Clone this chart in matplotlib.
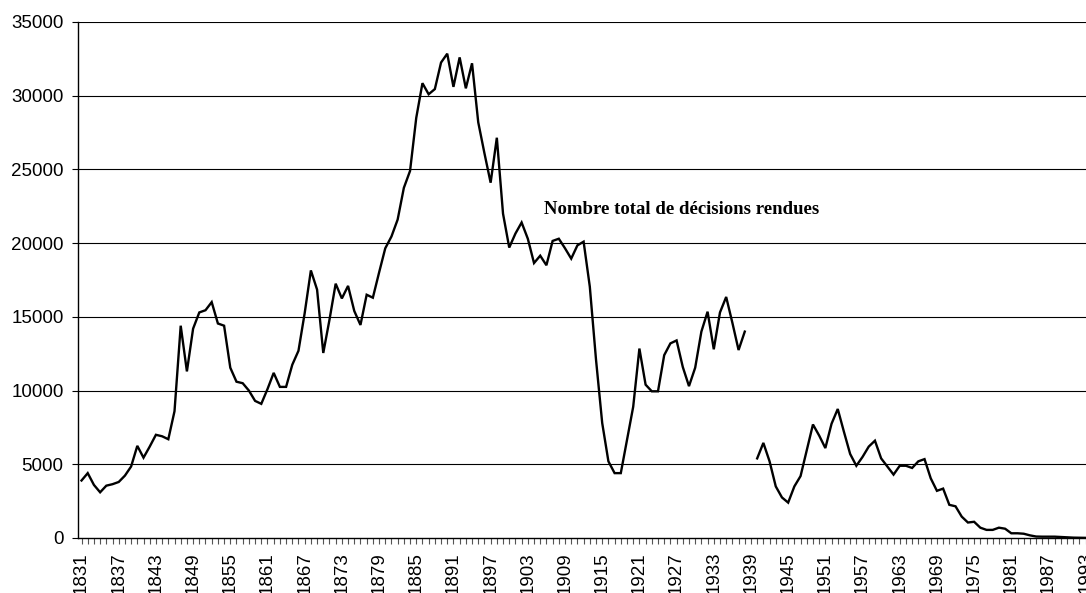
import numpy as np
import matplotlib
matplotlib.use("Agg")
import matplotlib.pyplot as plt

years = list(range(1831, 1994))

# values 1831..1938
part1 = [3900, 4400, 3600, 3100, 3550, 3650, 3800, 4230, 4850, 6250,
         5450, 6200, 7000, 6900, 6700, 8600, 14400, 11300, 14200, 15300,
         15450, 16000, 14550, 14400, 11550, 10600, 10500, 10000, 9300, 9100,
         10100, 11200, 10250, 10250, 11750, 12700, 15250, 18150, 16850, 12550,
         14800, 17250, 16250, 17100, 15400, 14450, 16500, 16300, 18000, 19650,
         20450, 21600, 23750, 24900, 28500, 30850, 30100, 30450, 32250, 32850,
         30600, 32600, 30500, 32200, 28200, 26100, 24100, 27150, 22000, 19700,
         20650, 21400, 20300, 18650, 19150, 18500, 20150, 20300, 19650, 18950,
         19850, 20100, 17050, 12100, 7800, 5200, 4400, 4400, 6650, 8900,
         12850, 10400, 9950, 9950, 12400, 13200, 13400, 11600, 10300, 11550,
         14000, 15350, 12800, 15300, 16350, 14600, 12750, 14000]
# 1939 missing
gap = [np.nan]
# values 1940..1993
part2 = [5400, 6450, 5200, 3500, 2750, 2400, 3500, 4200, 5950, 7700,
         6950, 6100, 7750, 8750, 7200, 5700, 4900, 5500, 6200, 6600,
         5400, 4850, 4300, 4900, 4900, 4750, 5200, 5350, 4050, 3200,
         3350, 2250, 2150, 1450, 1050, 1100, 700, 550, 550, 700,
         630, 320, 320, 290, 180, 100, 90, 90, 90, 70,
         45, 25, 20, 10]
values = part1 + gap + part2

yticks = list(range(0, 35001, 5000))
xlabel_years = list(range(1831, 1994, 6))
annotation = "Nombre total de décisions rendues"

fig = plt.figure(figsize=(10.86, 5.93), dpi=100)
ax = fig.add_axes([77.5 / 1086, 55 / 593, 1 - 77.5 / 1086, (538 - 22) / 593])

ax.plot(years, values, color="black", lw=1.7, solid_joinstyle="miter")

ax.set_ylim(0, 35000)
ax.set_xlim(1830.35, 1993.05)
ax.set_yticks(yticks)
ax.set_yticklabels([str(v) for v in yticks], fontfamily="Liberation Sans", fontsize=13.5)
ax.set_xticks(xlabel_years)
ax.set_xticklabels([str(y) for y in xlabel_years], rotation=90,
                   fontfamily="Liberation Sans", fontsize=13.5)
ax.set_xticks(years, minor=True)
ax.tick_params(axis="x", which="both", length=4, width=0.8, color="#555555",
               direction="out", pad=6)
ax.tick_params(axis="y", length=4, width=0.8, direction="out", pad=6)

for v in yticks[1:]:
    ax.axhline(v, color="black", lw=0.8, zorder=0)

for s in ["top", "right"]:
    ax.spines[s].set_visible(False)
ax.spines["left"].set_linewidth(1.0)
ax.spines["bottom"].set_linewidth(1.0)

ax.text(1905.6, 22250, annotation, fontfamily="Liberation Serif",
        fontweight="bold", fontsize=13.5, ha="left", va="center")

fig.savefig("out.png", dpi=100)
